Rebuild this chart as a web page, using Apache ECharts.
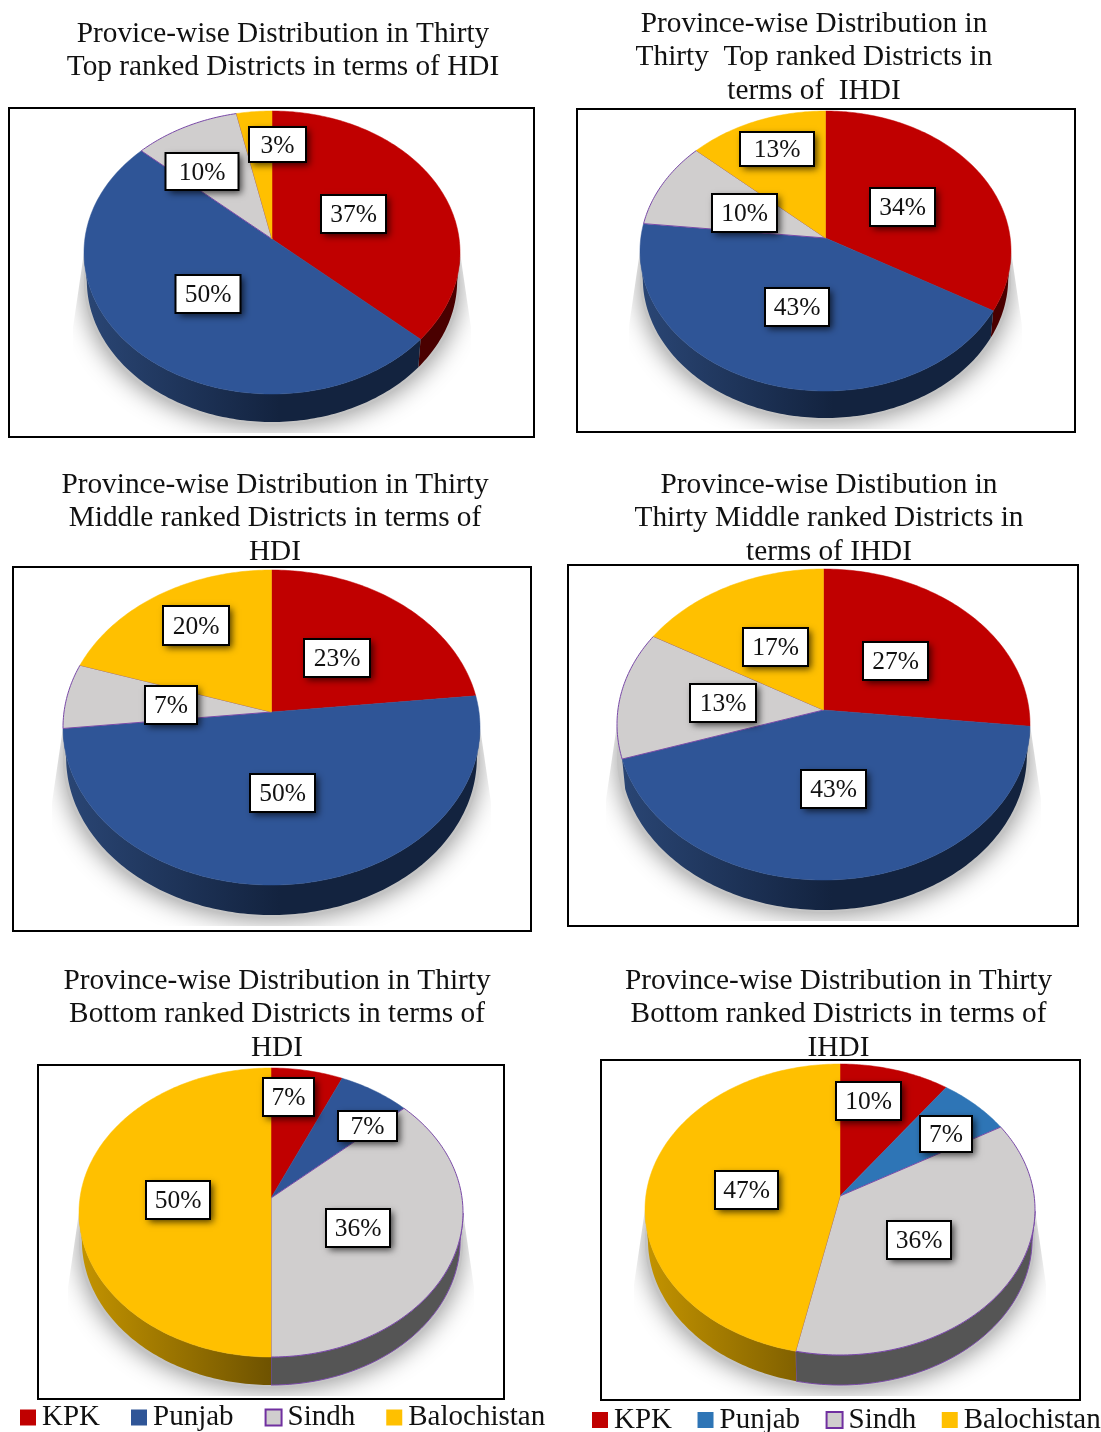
<!DOCTYPE html>
<html><head><meta charset="utf-8">
<style>html,body{margin:0;padding:0;background:#fff}#c{width:1101px;height:1432px}</style>
<script src="https://cdn.jsdelivr.net/npm/echarts@6/dist/echarts.min.js"></script>
</head><body><div id="c"></div>
<script>
// ---------- DATA ----------
const provinces = ['KPK', 'Punjab', 'Sindh', 'Balochistan'];
// districts out of thirty, per province (sets the slice sizes)
const topHDI    = [11, 15, 3, 1];
const topIHDI   = [10, 13, 3, 4];
const midHDI    = [7, 15, 2, 6];
const midIHDI   = [8, 13, 4, 5];
const botHDI    = [2, 2, 11, 15];
const botIHDI   = [3, 2, 11, 14];
// percentages as printed on the slices
const topHDILabels  = [37, 50, 10, 3];
const topIHDILabels = [34, 43, 10, 13];
const midHDILabels  = [23, 50, 7, 20];
const midIHDILabels = [27, 43, 13, 17];
const botHDILabels  = [7, 7, 36, 50];
const botIHDILabels = [10, 7, 36, 47];
const titles = [
  'Provice-wise Distribution in Thirty\nTop ranked Districts in terms of HDI',
  'Province-wise Distribution in\nThirty  Top ranked Districts in\nterms of  IHDI',
  'Province-wise Distribution in Thirty\nMiddle ranked Districts in terms of\nHDI',
  'Province-wise Distibution in\nThirty Middle ranked Districts in\nterms of IHDI',
  'Province-wise Distribution in Thirty\nBottom ranked Districts in terms of\nHDI',
  'Province-wise Distribution in Thirty\nBottom ranked Districts in terms of\nIHDI'
];
const panelValues = [topHDI, topIHDI, midHDI, midIHDI, botHDI, botIHDI];
const panelLabels = [topHDILabels, topIHDILabels, midHDILabels, midIHDILabels, botHDILabels, botIHDILabels];

// ---------- LAYOUT & STYLE ----------
const SERIF = '"Liberation Serif","Times New Roman",serif';
const baseColors = ['#c00000', '#2f5597', '#d0cece', '#ffc000'];
const altColors  = ['#c00000', '#2e75b6', '#d0cece', '#ffc000'];
const sideColors = [['#6a0000','#4a0000'], ['#2a4675','#13233f'], ['#555555','#555555'], ['#c49400','#6b5000']];
const altSide    = [['#6a0000','#4a0000'], ['#22568a','#123a60'], ['#555555','#555555'], ['#c49400','#6b5000']];
const SINDH = 2, PURPLE = '#7a4aa8';
// box [x0,y0,x1,y1], pie cx, apex y, top, left, right, face bottom, depth, title x, title first-line centre y
const panels = [
  {box:[9,108,534,437],   cx:272, ay:239,  top:111,  left:84,  right:460,  bottom:394,  depth:28, tx:283, ty:34},
  {box:[577,109,1075,432],cx:825.5,ay:238, top:111,  left:640, right:1011, bottom:391,  depth:27, tx:814, ty:24},
  {box:[13,567,531,931],  cx:271.5,ay:712, top:570,  left:63,  right:480,  bottom:885,  depth:30, tx:275, ty:485},
  {box:[568,565,1078,926],cx:823.5,ay:710, top:569,  left:617, right:1030, bottom:880,  depth:30, tx:829, ty:485},
  {box:[38,1065,504,1399],cx:271, ay:1198, top:1068, left:79,  right:463,  bottom:1357, depth:28, tx:277, ty:981},
  {box:[601,1060,1080,1400],cx:840,ay:1196,top:1064, left:645, right:1035, bottom:1355, depth:30, tx:838.5, ty:981}
];
// label boxes per panel, per province: [centre x, centre y, w, h]
const labelBoxes = [
  [[353.5,214,65,38],[208,294,65,38],[202,171.5,73,37],[277.5,144.5,57,35]],
  [[902.5,207,65,38],[797,307,64,38],[744.5,213,65,38],[777,149,74,34]],
  [[337,658,66,38],[282.5,793,65,38],[171,705,52,38],[196,625.5,66,39]],
  [[895.5,661,65,38],[833.5,789,65,38],[723,703,66,38],[775.5,647,65,38]],
  [[288.5,1097,51,38],[367.5,1126,59,30],[358,1228,64,38],[178,1200,64,38]],
  [[868.5,1101,65,38],[946,1134,52,36],[919,1240,64,38],[746.5,1190,63,38]]
];
const LH = 33.5, FS = 29.3, LEGEND_FS = 29, LABEL_FS = 25.5;

function projector(p){
  const a = p.ay - p.top, b = p.bottom - p.ay;
  const k = (b - a) / (b + a), B = a * (1 + k);
  const rx = (p.right - p.left) / 2, A = rx * Math.sqrt(1 - k * k);
  return f => {
    const t = f * 2 * Math.PI, u = Math.sin(t), v = Math.cos(t), w = 1 + k * v;
    return [p.cx + A * u / w, p.ay - B * v / w];
  };
}
function arc(map, from, to){
  const pts = [], n = Math.max(2, Math.ceil((to - from) * 360));
  for (let i = 0; i <= n; i++) pts.push(map(from + (to - from) * i / n));
  return pts;
}
function rowsOf(values){
  let acc = 0; const total = values.reduce((s, v) => s + v, 0);
  return values.map((v, i) => { const r = [v, i, acc / total]; acc += v; return r; });
}
function lowerEdge(p, pt){ return [p.cx + (pt[0] - p.cx) * 0.985, pt[1] + p.depth]; }

const series = [];
panels.forEach((p, pi) => {
  const map = projector(p);
  const values = panelValues[pi];
  const total = values.reduce((s, v) => s + v, 0);
  const colors = pi === 5 ? altColors : baseColors;
  const sides = pi === 5 ? altSide : sideColors;
  const midY = (p.top + p.bottom) / 2;

  // soft ground shadow
  series.push({
    type:'custom', name:'shadow'+pi, coordinateSystem:'none', silent:true, z:2,
    data:[[total]],
    renderItem(){
      const ring = arc(map, 0, 1).map(pt => [pt[0], pt[1] + p.depth + 2]);
      const bot = Math.min(p.bottom + p.depth + 11, p.box[3] - 1);
      return {
        type:'polygon', shape:{points:ring},
        style:{fill:'#c4c4c4', shadowColor:'rgba(0,0,0,0.42)', shadowBlur:24, shadowOffsetY:3},
        clipPath:{type:'polygon', shape:{points:[
          [p.left, midY], [p.left-11, midY+75], [p.left-11, bot], [p.right+11, bot], [p.right+11, midY+75], [p.right, midY]
        ]}}
      };
    }
  });
  // rim: only the front part of each slice's edge
  series.push({
    type:'custom', name:'side'+pi, coordinateSystem:'none', silent:true, z:3,
    data:rowsOf(values),
    renderItem(params, api){
      const v = api.value(0), i = api.value(1), s = api.value(2);
      const up = arc(map, s, s + v / total).filter(q => q[1] > midY);
      if (up.length < 2) return null;
      const xs = up.map(q => q[0]);
      if (Math.max(...xs) - Math.min(...xs) < 0.03 * (p.right - p.left)) return null;
      const pts = up.concat(up.map(q => lowerEdge(p, q)).reverse());
      return {
        type:'polygon', shape:{points:pts},
        style:{
          fill:{type:'linear', x:p.left, y:0, x2:p.right, y2:0, global:true,
            colorStops:[{offset:0,color:sides[i][0]},{offset:0.52,color:sides[i][1]},{offset:1,color:sides[i][1]}]},
          stroke:i === SINDH ? PURPLE : null, lineWidth:i === SINDH ? 1 : 0
        }
      };
    }
  });
  // top face
  series.push({
    type:'custom', name:'face'+pi, coordinateSystem:'none', silent:true, z:4,
    data:rowsOf(values),
    renderItem(params, api){
      const v = api.value(0), i = api.value(1), s = api.value(2);
      const pts = [[p.cx, p.ay]].concat(arc(map, s, s + v / total));
      return {
        type:'polygon', shape:{points:pts},
        style:{fill:colors[i], stroke:i === SINDH ? PURPLE : colors[i], lineWidth:i === SINDH ? 1 : 0.5}
      };
    }
  });
  // value labels
  series.push({
    type:'custom', name:'label'+pi, coordinateSystem:'none', silent:true, z:5,
    data:rowsOf(values),
    renderItem(params, api){
      const i = api.value(1);
      const [x, y, w, h] = labelBoxes[pi][i];
      const shape = {x:x-w/2, y:y-h/2, width:w, height:h};
      return {
        type:'group',
        children:[
          {type:'rect', shape, style:{fill:'#fff', shadowColor:'rgba(0,0,0,0.7)', shadowBlur:7, shadowOffsetX:3, shadowOffsetY:3}},
          {type:'rect', shape, style:{fill:'#fff', stroke:'#000', lineWidth:2}},
          {type:'text', style:{x, y:y+1.5, text:panelLabels[pi][i]+'%', fill:'#111', font:LABEL_FS+'px '+SERIF, align:'center', verticalAlign:'middle'}}
        ]
      };
    }
  });
});
// legend hosts
provinces.forEach(name => series.push({type:'custom', name, coordinateSystem:'none', silent:true, data:[], renderItem(){ return null; }}));

function legendOf(colors, left, top, gap){
  return {
    left, top, orient:'horizontal', padding:0, itemGap:gap, itemWidth:16, itemHeight:16, selectedMode:false, width:560,
    textStyle:{fontFamily:SERIF, fontSize:LEGEND_FS, color:'#111', padding:[2,0,0,1]},
    data:provinces.map((name, i) => ({
      name, icon:'rect',
      itemStyle:{color:colors[i], borderColor:i === SINDH ? '#7030a0' : colors[i], borderWidth:i === SINDH ? 2 : 0}
    }))
  };
}

const chart = echarts.init(document.getElementById('c'));
chart.setOption({
  animation:false,
  backgroundColor:'#fff',
  title:panels.map((p, i) => ({
    text:titles[i], left:p.tx, top:p.ty - LH/2, textAlign:'center', padding:0,
    textStyle:{fontFamily:SERIF, fontSize:FS, fontWeight:'normal', color:'#111', lineHeight:LH}
  })),
  legend:[legendOf(baseColors, 20, 1403, 31), legendOf(altColors, 592, 1405.5, 25.5)],
  graphic:panels.map(p => ({
    type:'rect', z:0, silent:true,
    shape:{x:p.box[0], y:p.box[1], width:p.box[2]-p.box[0], height:p.box[3]-p.box[1]},
    style:{fill:'#fff', stroke:'#000', lineWidth:2}
  })),
  series
});
</script></body></html>
